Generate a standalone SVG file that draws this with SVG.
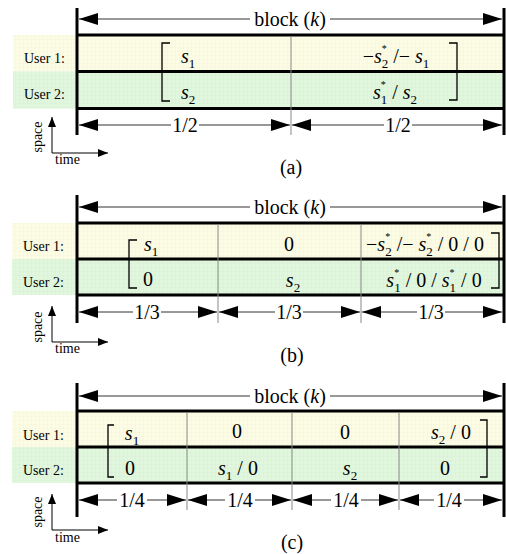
<svg xmlns="http://www.w3.org/2000/svg" width="506" height="554" viewBox="0 0 506 554">
<style>
.t{font-family:"Liberation Serif","Times New Roman",serif;font-size:20px;fill:#000}
.lbl{font-size:14px}
.i{font-style:italic}
.sb{font-size:13px}
.sp{font-size:10px}
.thick{stroke:#000;stroke-width:3;fill:none}
.div{stroke:#888;stroke-width:1;fill:none}
.ar{stroke:#333;stroke-width:1;fill:none;marker-end:url(#ah)}
.ax{stroke:#000;stroke-width:1;fill:none;marker-end:url(#sah)}
.br{stroke:#000;stroke-width:1.3;fill:none}
.y{fill:#fcfbe3}
.g{fill:#e0f6dd}
</style>
<defs>
<marker id="ah" markerUnits="userSpaceOnUse" markerWidth="19" markerHeight="12" refX="19" refY="6" orient="auto" viewBox="0 0 19 12"><path d="M0,0 L19,6 L0,12 z" fill="#000"/></marker>
<marker id="sah" markerUnits="userSpaceOnUse" markerWidth="10" markerHeight="8" refX="10" refY="4" orient="auto" viewBox="0 0 10 8"><path d="M0,0 L10,4 L0,8 z" fill="#000"/></marker>
<pattern id="grid" width="4" height="4" patternUnits="userSpaceOnUse"><path d="M4,0 V4 M0,4 H4" stroke="#000" stroke-opacity="0.025" stroke-width="1" fill="none"/></pattern>
</defs>

<!-- Panel (a) -->
<g id="panel-a">
  <g id="a-bands">
    <rect class="y" x="13" y="35" width="492" height="36.5"/>
    <rect class="g" x="13" y="71.5" width="492" height="37"/>
    <rect fill="url(#grid)" x="13" y="35" width="492" height="73.5"/>
  </g>
  <g id="a-frame">
    <line class="thick" x1="77" y1="8" x2="77" y2="135"/>
    <line class="thick" x1="504" y1="8" x2="504" y2="135"/>
    <line class="thick" x1="77" y1="35" x2="505" y2="35"/>
    <line class="thick" x1="77" y1="71.5" x2="505" y2="71.5"/>
    <line class="thick" x1="77" y1="108.5" x2="505" y2="108.5"/>
    <line class="div" x1="291" y1="36" x2="291" y2="135"/>
  </g>
  <g id="a-labels">
    <text class="t lbl" x="24" y="63">User 1:</text>
    <text class="t lbl" x="24" y="99">User 2:</text>
  </g>
  <g id="a-block"><text class="t" x="290" y="26" text-anchor="middle">block (<tspan class="i">k</tspan>)</text></g>
  <g id="a-cells">
    <path class="br" d="M170,43 H162 V101 H170"/>
    <path class="br" d="M449,43 H457 V100 H449"/>
    <text class="t" x="181" y="63"><tspan class="i">s</tspan><tspan class="sb" dy="5">1</tspan></text>
    <text class="t" x="181" y="99"><tspan class="i">s</tspan><tspan class="sb" dy="5">2</tspan></text>
    <text class="t" x="396" y="63" text-anchor="middle">−<tspan class="i">s</tspan><tspan class="sp" dy="-11">*</tspan><tspan class="sb" dx="-5" dy="16">2</tspan><tspan dy="-5"> /− </tspan><tspan class="i">s</tspan><tspan class="sb" dy="5">1</tspan></text>
    <text class="t" x="395" y="99" text-anchor="middle"><tspan class="i">s</tspan><tspan class="sp" dy="-11">*</tspan><tspan class="sb" dx="-5" dy="16">1</tspan><tspan dy="-5"> / </tspan><tspan class="i">s</tspan><tspan class="sb" dy="5">2</tspan></text>
  </g>
  <g id="a-dims">
    <text class="t" x="185" y="132" text-anchor="middle">1/2</text>
    <text class="t" x="398" y="132" text-anchor="middle">1/2</text>
  </g>
  <g id="a-axes">
    <text class="t lbl" transform="translate(42,137) rotate(-90)" text-anchor="middle">space</text>
    <text class="t lbl" x="55" y="164">time</text>
  </g>
  <text class="t" x="291" y="174" text-anchor="middle">(a)</text>
</g>

<!-- Panel (b) -->
<g id="panel-b" transform="translate(0,188)">
  <g id="b-bands">
    <rect class="y" x="12" y="35" width="493" height="36"/>
    <rect class="g" x="12" y="71" width="493" height="36"/>
    <rect fill="url(#grid)" x="12" y="35" width="493" height="72"/>
  </g>
  <g id="b-frame">
    <line class="thick" x1="77" y1="7" x2="77" y2="135"/>
    <line class="thick" x1="504" y1="7" x2="504" y2="135"/>
    <line class="thick" x1="77" y1="35" x2="505" y2="35"/>
    <line class="thick" x1="77" y1="71" x2="505" y2="71"/>
    <line class="thick" x1="77" y1="107" x2="505" y2="107"/>
    <line class="div" x1="218" y1="36" x2="218" y2="135"/>
    <line class="div" x1="361" y1="36" x2="361" y2="135"/>
  </g>
  <g id="b-labels">
    <text class="t lbl" x="23" y="63">User 1:</text>
    <text class="t lbl" x="23" y="99">User 2:</text>
  </g>
  <g id="b-block"><text class="t" x="290" y="26" text-anchor="middle">block (<tspan class="i">k</tspan>)</text></g>
  <g id="b-cells">
    <path class="br" d="M137,52 H129 V100 H137"/>
    <path class="br" d="M491,45 H499 V100 H491"/>
    <text class="t" x="144" y="63"><tspan class="i">s</tspan><tspan class="sb" dy="5">1</tspan></text>
    <text class="t" x="143" y="98">0</text>
    <text class="t" x="289" y="63" text-anchor="middle">0</text>
    <text class="t" x="293" y="99" text-anchor="middle"><tspan class="i">s</tspan><tspan class="sb" dy="5">2</tspan></text>
    <text class="t" x="425" y="63" text-anchor="middle">−<tspan class="i">s</tspan><tspan class="sp" dy="-11">*</tspan><tspan class="sb" dx="-5" dy="16">2</tspan><tspan dy="-5"> /− </tspan><tspan class="i">s</tspan><tspan class="sp" dy="-11">*</tspan><tspan class="sb" dx="-5" dy="16">2</tspan><tspan dy="-5"> / 0 / 0</tspan></text>
    <text class="t" x="434" y="99" text-anchor="middle"><tspan class="i">s</tspan><tspan class="sp" dy="-11">*</tspan><tspan class="sb" dx="-5" dy="16">1</tspan><tspan dy="-5"> / 0 / </tspan><tspan class="i">s</tspan><tspan class="sp" dy="-11">*</tspan><tspan class="sb" dx="-5" dy="16">1</tspan><tspan dy="-5"> / 0</tspan></text>
  </g>
  <g id="b-dims">
    <text class="t" x="147" y="131" text-anchor="middle">1/3</text>
    <text class="t" x="289" y="131" text-anchor="middle">1/3</text>
    <text class="t" x="431" y="131" text-anchor="middle">1/3</text>
  </g>
  <g id="b-axes">
    <text class="t lbl" transform="translate(42,139) rotate(-90)" text-anchor="middle">space</text>
    <text class="t lbl" x="55" y="165">time</text>
  </g>
  <text class="t" x="292" y="174" text-anchor="middle">(b)</text>
</g>

<!-- Panel (c) -->
<g id="panel-c" transform="translate(0,377)">
  <g id="c-bands">
    <rect class="y" x="12" y="34" width="493" height="36"/>
    <rect class="g" x="12" y="70" width="493" height="36"/>
    <rect fill="url(#grid)" x="12" y="34" width="493" height="72"/>
  </g>
  <g id="c-frame">
    <line class="thick" x1="77" y1="6" x2="77" y2="140"/>
    <line class="thick" x1="504" y1="6" x2="504" y2="140"/>
    <line class="thick" x1="77" y1="34" x2="505" y2="34"/>
    <line class="thick" x1="77" y1="70" x2="505" y2="70"/>
    <line class="thick" x1="77" y1="106" x2="505" y2="106"/>
    <line class="div" x1="187" y1="35" x2="187" y2="133"/>
    <line class="div" x1="292" y1="35" x2="292" y2="133"/>
    <line class="div" x1="399" y1="35" x2="399" y2="133"/>
  </g>
  <g id="c-labels">
    <text class="t lbl" x="23" y="76" dy="-13">User 1:</text>
    <text class="t lbl" x="23" y="98">User 2:</text>
  </g>
  <g id="c-block"><text class="t" x="290" y="26" text-anchor="middle">block (<tspan class="i">k</tspan>)</text></g>
  <g id="c-cells">
    <path class="br" d="M114,48 H108 V100 H114"/>
    <path class="br" d="M480,43 H487 V100 H480"/>
    <text class="t" x="132" y="63" text-anchor="middle"><tspan class="i">s</tspan><tspan class="sb" dy="5">1</tspan></text>
    <text class="t" x="130" y="98" text-anchor="middle">0</text>
    <text class="t" x="237" y="61" text-anchor="middle">0</text>
    <text class="t" x="238" y="98" text-anchor="middle"><tspan class="i">s</tspan><tspan class="sb" dy="5">1</tspan><tspan dy="-5">  / 0</tspan></text>
    <text class="t" x="345" y="62" text-anchor="middle">0</text>
    <text class="t" x="350" y="98" text-anchor="middle"><tspan class="i">s</tspan><tspan class="sb" dy="5">2</tspan></text>
    <text class="t" x="451" y="62" text-anchor="middle"><tspan class="i">s</tspan><tspan class="sb" dy="5">2</tspan><tspan dy="-5"> / 0</tspan></text>
    <text class="t" x="445" y="98" text-anchor="middle">0</text>
  </g>
  <g id="c-dims">
    <text class="t" x="132" y="130" text-anchor="middle">1/4</text>
    <text class="t" x="240" y="130" text-anchor="middle">1/4</text>
    <text class="t" x="346" y="130" text-anchor="middle">1/4</text>
    <text class="t" x="449" y="130" text-anchor="middle">1/4</text>
  </g>
  <g id="c-axes">
    <text class="t lbl" transform="translate(42,135) rotate(-90)" text-anchor="middle">space</text>
    <text class="t lbl" x="55" y="165">time</text>
  </g>
  <text class="t" x="292" y="172" text-anchor="middle">(c)</text>
</g>

<!-- Connectors -->
<g id="connectors">
  <!-- panel a -->
  <line class="ar" x1="250" y1="19" x2="79" y2="19"/>
  <line class="ar" x1="330" y1="19" x2="502" y2="19"/>
  <line class="ar" x1="171" y1="125" x2="79" y2="125"/>
  <line class="ar" x1="199" y1="125" x2="290" y2="125"/>
  <line class="ar" x1="384" y1="125" x2="292" y2="125"/>
  <line class="ar" x1="412" y1="125" x2="502" y2="125"/>
  <line class="ax" x1="52" y1="153" x2="52" y2="117"/>
  <line class="ax" x1="52" y1="153" x2="108" y2="153"/>
  <!-- panel b -->
  <line class="ar" x1="250" y1="207" x2="79" y2="207"/>
  <line class="ar" x1="330" y1="207" x2="502" y2="207"/>
  <line class="ar" x1="133" y1="312" x2="79" y2="312"/>
  <line class="ar" x1="161" y1="312" x2="217" y2="312"/>
  <line class="ar" x1="275" y1="312" x2="219" y2="312"/>
  <line class="ar" x1="303" y1="312" x2="360" y2="312"/>
  <line class="ar" x1="417" y1="312" x2="362" y2="312"/>
  <line class="ar" x1="445" y1="312" x2="502" y2="312"/>
  <line class="ax" x1="52" y1="342" x2="52" y2="306"/>
  <line class="ax" x1="52" y1="342" x2="108" y2="342"/>
  <!-- panel c -->
  <line class="ar" x1="250" y1="396" x2="79" y2="396"/>
  <line class="ar" x1="330" y1="396" x2="502" y2="396"/>
  <line class="ar" x1="117" y1="500" x2="79" y2="500"/>
  <line class="ar" x1="147" y1="500" x2="186" y2="500"/>
  <line class="ar" x1="225" y1="500" x2="188" y2="500"/>
  <line class="ar" x1="255" y1="500" x2="291" y2="500"/>
  <line class="ar" x1="331" y1="500" x2="293" y2="500"/>
  <line class="ar" x1="361" y1="500" x2="398" y2="500"/>
  <line class="ar" x1="434" y1="500" x2="400" y2="500"/>
  <line class="ar" x1="464" y1="500" x2="502" y2="500"/>
  <line class="ax" x1="52" y1="530" x2="52" y2="494"/>
  <line class="ax" x1="52" y1="530" x2="108" y2="530"/>
</g>
</svg>
